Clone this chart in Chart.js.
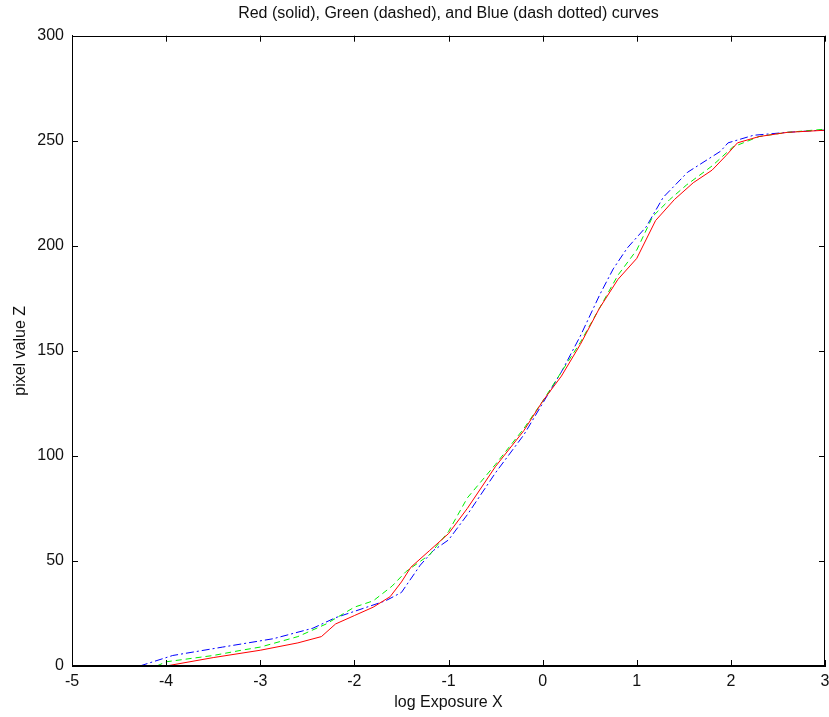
<!DOCTYPE html>
<html>
<head>
<meta charset="utf-8">
<script src="https://cdn.jsdelivr.net/npm/chart.js@4.4.1/dist/chart.umd.min.js"></script>
<style>
html,body{margin:0;padding:0;background:#fff;}
#wrap{width:829px;height:717px;position:relative;}
</style>
</head>
<body>
<div id="wrap"><canvas id="c" width="829" height="717"></canvas></div>
<script>
const titleText = "Red (solid), Green (dashed), and Blue (dash dotted) curves";
const xTitle = "log Exposure X";
const yTitle = "pixel value Z";
const xTicks = [-5, -4, -3, -2, -1, 0, 1, 2, 3];
const yTicks = [0, 50, 100, 150, 200, 250, 300];

const redX = [-4.0,-3.5,-3.0,-2.6,-2.35,-2.2,-2.0,-1.8,-1.62,-1.5,-1.4,-1.2,-1.0,-0.8,-0.5,-0.2,0,0.2,0.4,0.6,0.8,1.0,1.2,1.4,1.6,1.8,1.95,2.07,2.3,2.6,3.0];
const redY = [0,4,7.5,11,14,20,24,28,33,40,47,55,63,75,95,112,126,138,153,170,184,194,212,222,230,236,243,249,252,254,255];

const greenX = [-4.1,-4.0,-3.5,-3.2,-3.0,-2.6,-2.3,-2.0,-1.8,-1.6,-1.45,-1.2,-1.0,-0.8,-0.5,-0.2,0,0.2,0.4,0.6,0.8,1.0,1.17,1.35,1.53,1.8,2.02,2.3,2.6,3.0];
const greenY = [0,2,5,7.5,9,14,20,28,31,38,45,53,64,80,96,113,126,140,154,170,186,198,214,222,229,238,247,252,254,255.5];

const blueX = [-4.28,-3.93,-3.4,-2.86,-2.44,-2.2,-2.0,-1.67,-1.5,-1.3,-1.16,-1.0,-0.8,-0.5,-0.2,0,0.2,0.4,0.61,0.75,0.9,1.1,1.28,1.54,1.89,1.97,2.24,2.6,2.95,3.0];
const blueY = [0,5,9,13,18,23,26,31,35,48,55,60,72,92,110,125,140,157,177,189,199,209,223,235,245,249,252.6,254,255,255];

function pts(xs, ys){ return xs.map((x,i)=>({x:x, y:ys[i]})); }

const FONT = "'Liberation Sans', Arial, Helvetica, sans-serif";
const TXT = '#111';
const FS = 16;

const boxPlugin = {
  id: 'boxTicks',
  afterDraw(chart){
    const ctx = chart.ctx, a = chart.chartArea;
    const xs = chart.scales.x, ys = chart.scales.y;
    ctx.save();
    ctx.strokeStyle = '#000';
    ctx.lineWidth = 1;
    ctx.strokeRect(Math.round(a.left)+0.5, Math.round(a.top)+0.5, Math.round(a.right-a.left)-1, Math.round(a.bottom-a.top)-1);
    const L = 6;
    ctx.beginPath();
    xTicks.forEach(v=>{
      const p = Math.round(xs.getPixelForValue(v))+0.5;
      ctx.moveTo(p, a.bottom); ctx.lineTo(p, a.bottom-L);
      ctx.moveTo(p, a.top); ctx.lineTo(p, a.top+L);
    });
    yTicks.forEach(v=>{
      const p = Math.round(ys.getPixelForValue(v))+0.5;
      ctx.moveTo(a.left, p); ctx.lineTo(a.left+L, p);
      ctx.moveTo(a.right, p); ctx.lineTo(a.right-L, p);
    });
    ctx.stroke();
    ctx.restore();
  }
};

new Chart(document.getElementById('c'), {
  type: 'line',
  data: {
    datasets: [
      {label:'Red', data: pts(redX, redY), borderColor:'#ff0000', borderWidth:1, pointRadius:0, tension:0, fill:false},
      {label:'Green', data: pts(greenX, greenY), borderColor:'#00ee00', borderWidth:1, borderDash:[6,4], pointRadius:0, tension:0, fill:false},
      {label:'Blue', data: pts(blueX, blueY), borderColor:'#0000ff', borderWidth:1, borderDash:[8,3,2,3], pointRadius:0, tension:0, fill:false}
    ]
  },
  options: {
    responsive: false,
    animation: false,
    devicePixelRatio: 1,
    layout: {padding: {left:0, right:4, top:0, bottom:0}},
    plugins: {
      legend: {display:false},
      tooltip: {enabled:false},
      title: {display:true, fullSize:false, text: titleText, color: TXT, font:{family:FONT, size:FS, weight:'normal', lineHeight:1.2}, padding:{top:4.4, bottom:12.1}}
    },
    scales: {
      x: {
        type:'linear', min:-5, max:3,
        afterBuildTicks: s => { s.ticks = xTicks.map(v=>({value:v})); },
        afterFit: s => { s.height = 51; s.paddingLeft = 0; s.paddingRight = 0; },
        grid: {display:true, drawOnChartArea:false, drawTicks:false},
        border: {display:true, color:'#000', width:1},
        ticks: {color:TXT, font:{family:FONT, size:FS}, padding:6, maxRotation:0, autoSkip:false},
        title: {display:true, text:xTitle, color:TXT, font:{family:FONT, size:FS, lineHeight:1.2}, padding:{top:4.4, bottom:4.4}}
      },
      y: {
        type:'linear', min:0, max:300,
        afterBuildTicks: s => { s.ticks = yTicks.map(v=>({value:v})); },
        afterFit: s => { s.width = 72; s.paddingTop = 0; s.paddingBottom = 0; },
        grid: {display:true, drawOnChartArea:false, drawTicks:false},
        border: {display:true, color:'#000', width:1},
        ticks: {color:TXT, font:{family:FONT, size:FS}, padding:8, autoSkip:false},
        title: {display:true, text:yTitle, color:TXT, font:{family:FONT, size:FS, lineHeight:1.2}, padding:{top:11.4, bottom:11.4}}
      }
    }
  },
  plugins: [boxPlugin]
});
</script>
</body>
</html>
